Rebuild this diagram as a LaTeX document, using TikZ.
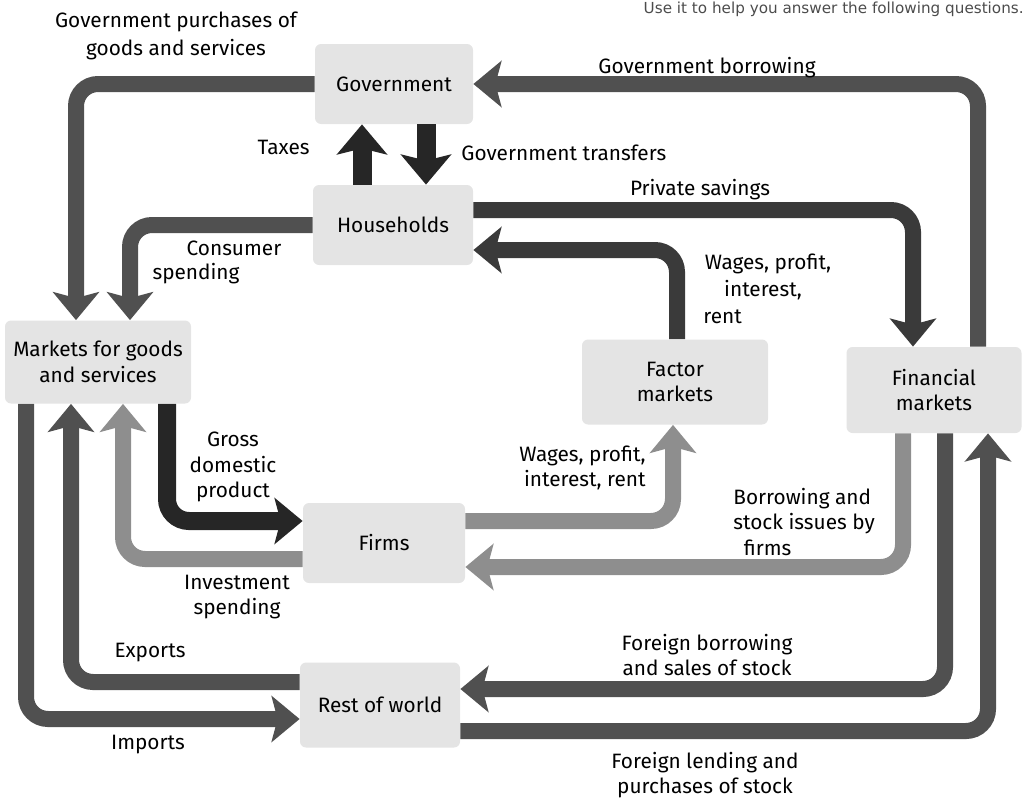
\documentclass[tikz,border=0pt]{standalone}
\usepackage{fontspec}
\setmainfont{Fira Sans}
\newfontfamily\scanfont{DejaVu Sans}
\usetikzlibrary{arrows.meta}
\newcommand\lblfont{\fontsize{10.4}{12.8}\selectfont}
\definecolor{boxgray}{HTML}{E4E4E4}
\definecolor{cdark}{HTML}{262626}
\definecolor{cpriv}{HTML}{3A3A3A}
\definecolor{cmid}{HTML}{505050}
\definecolor{clight}{HTML}{8E8E8E}
\begin{document}
\begin{tikzpicture}[x=0.5pt,y=-0.5pt,
  box/.style={fill=boxgray, rounded corners=3pt, inner sep=0pt, align=center, font=\lblfont},
  lab/.style={inner sep=0pt, align=center, font=\lblfont},
  flow/.style={line width=8pt, rounded corners=11pt, -{Stealth[length=14pt,width=23pt,inset=3pt]}},
  bigflow/.style={line width=9.5pt, -{Stealth[length=15pt,width=25pt,inset=3pt]}}]
\useasboundingbox (0,0) rectangle (1027,803);

% boxes
\node[box, minimum width=79pt, minimum height=40pt] (gov) at (394,84) {Government};
\node[box, minimum width=80pt, minimum height=40pt] (hh) at (393,225) {Households};
\node[box, minimum width=93pt, minimum height=41.5pt] (mkt) at (98,362) {Markets for goods\\and services};
\node[box, minimum width=93pt, minimum height=42.5pt] (fac) at (675,382) {Factor\\markets};
\node[box, minimum width=87.5pt, minimum height=43pt] (fin) at (934,390) {Financial\\markets};
\node[box, minimum width=81pt, minimum height=40pt] (firms) at (384,543) {Firms};
\node[box, minimum width=80pt, minimum height=42.5pt] (row) at (380,705) {Rest of world};

% flows
\draw[flow, cmid] (gov.west) -| (76,0 |- mkt.north);
\draw[flow, cmid] (hh.west) -| (130,0 |- mkt.north);
\draw[bigflow, cdark] (362,0 |- hh.north) -- (362,0 |- gov.south);
\draw[bigflow, cdark] (426,0 |- gov.south) -- (426,0 |- hh.north);
\draw[flow, cmid] (978,0 |- fin.north) |- (gov.east);
\draw[flow, cpriv] ([yshift=7.5pt]hh.east) -| (913,0 |- fin.north);
\draw[flow, cpriv] (677,0 |- fac.north) |- ([yshift=-12.5pt]hh.east);
\draw[flow, line width=9pt, cdark] (167,0 |- mkt.south) |- ([yshift=11pt]firms.west);
\draw[flow, clight] ([yshift=-8pt]firms.west) -| (123,0 |- mkt.south);
\draw[flow, cmid] ([yshift=11.5pt]row.west) -| (71,0 |- mkt.south);
\draw[flow, cmid] (26,0 |- mkt.south) |- ([yshift=-7pt]row.west);
\draw[flow, clight] ([yshift=11pt]firms.east) -| (673,0 |- fac.south);
\draw[flow, clight] (903,0 |- fin.south) |- ([yshift=-12pt]firms.east);
\draw[flow, cmid] (945,0 |- fin.south) |- ([yshift=8pt]row.east);
\draw[flow, cmid] ([yshift=-13pt]row.east) -| (988,0 |- fin.south);

% labels
\node[lab, font=\fontsize{10.4}{14}\selectfont] (lgp) at (176,36) {Government purchases of\\goods and services};
\node[lab, anchor=east] (ltax) at (310,147) {Taxes};
\node[lab, anchor=west] (ltr) at (461,153) {Government transfers};
\node[lab] (lgb) at (707,68) {Government borrowing};
\node[lab] (lps) at (700,190) {Private savings};
\node[lab] (lcs1) at (234,248) {Consumer};
\node[lab] (lcs2) at (196,274) {spending};
\node[lab] (lw1) at (768,264) {Wages, profit,};
\node[lab] (lw2) at (763,290) {interest,};
\node[lab, anchor=west] (lw3) at (703,317) {rent};
\node[lab] (lgdp) at (233,467) {Gross\\domestic\\product};
\node[lab, align=right, anchor=east] (lfw) at (646,468) {Wages, profit,\\interest, rent};
\node[lab, align=left, anchor=west] (lbs) at (733,522) {Borrowing and\\stock issues by\\\hspace{0.5em}firms};
\node[lab] (linv) at (237,597) {Investment\\spending};
\node[lab] (lexp) at (150,653) {Exports};
\node[lab] (limp) at (148,745) {Imports};
\node[lab] (lfb) at (707,655) {Foreign borrowing\\and sales of stock};
\node[lab] (lfl) at (705,775) {Foreign lending and\\purchases of stock};
\node[anchor=base east, inner sep=0pt, text=gray!60!black, font=\scanfont\fontsize{7.6}{9}\selectfont] (scan) at (1024,13) {Use it to help you answer the following questions.};
\end{tikzpicture}
\end{document}
